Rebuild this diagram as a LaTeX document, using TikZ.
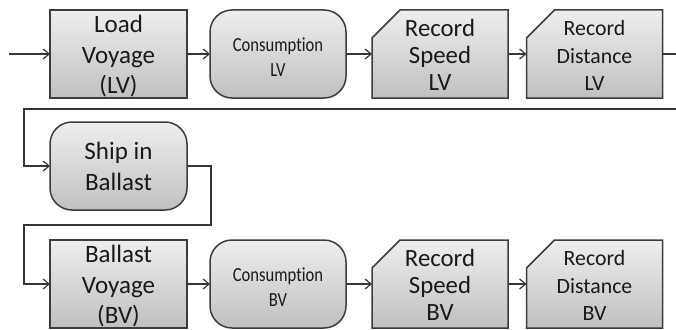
\documentclass[tikz,border=0pt]{standalone}
\usepackage{fontspec}
\setmainfont{Carlito}[Ligatures=NoCommon]
\newfontfamily\condfont[FakeStretch=0.83,Ligatures=NoCommon]{Carlito}
\usetikzlibrary{arrows.meta,backgrounds}
\definecolor{edgec}{RGB}{60,60,60}
\definecolor{linec}{RGB}{55,55,55}
\definecolor{filltop}{RGB}{238,238,238}
\definecolor{fillbot}{RGB}{192,192,192}
\definecolor{txtc}{RGB}{25,25,25}
\begin{document}
\begin{tikzpicture}[x=1pt,y=-1pt,
  shapebase/.style={draw=edgec, line width=1.5pt, top color=filltop, bottom color=fillbot},
  procbox/.style={shapebase, rectangle, minimum width=137pt, minimum height=88pt, inner sep=0pt, outer sep=0pt},
  roundbox/.style={shapebase, rectangle, rounded corners=22pt, minimum width=136pt, minimum height=88pt, inner sep=0pt, outer sep=0pt},
  slotbox/.style={rectangle, minimum width=136pt, minimum height=88pt, inner sep=0pt, outer sep=0pt},
  voytxt/.style={align=center, text=txtc, font=\fontsize{25}{30.5}\selectfont, text height=79pt, text depth=0pt},
  rectxt/.style={align=center, text=txtc, font=\fontsize{24.8}{27}\selectfont, text height=72pt, text depth=0pt},
  distxt/.style={align=center, text=txtc, font=\fontsize{21.8}{27.5}\selectfont, text height=73pt, text depth=0pt},
  shiptxt/.style={align=center, text=txtc, font=\fontsize{25}{30.7}\selectfont, text height=48.7pt, text depth=0pt},
  constxt/.style={align=center, text=txtc, font=\condfont\fontsize{20}{25}\selectfont, text height=45.4pt, text depth=0pt},
  flow/.style={draw=linec, line width=1.2pt, -{Straight Barb[length=6pt,width=10pt]}},
]
\useasboundingbox (0,0) rectangle (676,329);
\clip (0,0) rectangle (676,329);

% top row
\node[procbox, voytxt] (lv) at (118.5,54) {Load\\Voyage\\(LV)};
\node[roundbox, constxt] (clv) at (278,54) {Consumption\\LV};
\node[slotbox, rectxt] (rslv) at (440,54) {Record\\Speed\\LV};
\node[slotbox, distxt] (rdlv) at (594.5,54) {Record\\Distance\\LV};

% middle
\node[roundbox, shiptxt, minimum width=137pt] (ship) at (118.5,166) {Ship in\\Ballast};

% bottom row
\node[procbox, voytxt] (bv) at (118.5,284) {Ballast\\Voyage\\(BV)};
\node[roundbox, constxt] (cbv) at (278,284) {Consumption\\BV};
\node[slotbox, rectxt] (rsbv) at (440,284) {Record\\Speed\\BV};
\node[slotbox, distxt] (rdbv) at (594.5,284) {Record\\Distance\\BV};

\begin{scope}[on background layer]
  \foreach \n in {rslv,rdlv,rsbv,rdbv}{
    \path[shapebase] (\n.south west) -- (\n.south east) -- (\n.north east)
      -- ([xshift=28pt]\n.north west) -- ([yshift=-28pt]\n.north west) -- cycle;
  }
\end{scope}

% connectors
\coordinate (in) at (9,54);
\coordinate (wr1) at (692,54);
\coordinate (wr2) at (692,109);
\coordinate (wr3) at (24,109);
\coordinate (s1) at (211,225);
\coordinate (s2) at (24,225);

\draw[flow] (in) -- (lv);
\draw[flow] (lv) -- (clv);
\draw[flow] (clv) -- (rslv);
\draw[flow] (rslv) -- (rdlv);
\draw[flow] (rdlv.east) -- (wr1) -- (wr2) -- (wr3) |- (ship.west);
\draw[flow] (ship.east) -| (s1) -- (s2) |- (bv.west);
\draw[flow] (bv) -- (cbv);
\draw[flow] (cbv) -- (rsbv);
\draw[flow] (rsbv) -- (rdbv);
\end{tikzpicture}
\end{document}
